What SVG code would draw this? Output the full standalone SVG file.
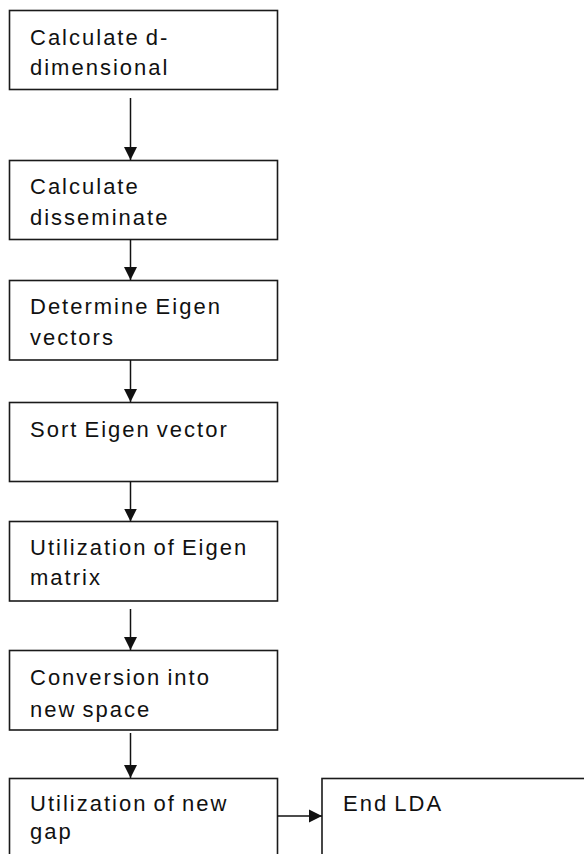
<svg xmlns="http://www.w3.org/2000/svg" width="584" height="854" viewBox="0 0 584 854">
<style>
.box{fill:#fff;stroke:#1a1a1a;stroke-width:1.6}
.lbl{font-family:"Liberation Sans",Arial,sans-serif;font-size:22px;letter-spacing:2px;word-spacing:-2px;fill:#111}
.conn{stroke:#111;stroke-width:1.5;fill:none;marker-end:url(#ah)}
</style>
<defs>
<marker id="ah" markerUnits="userSpaceOnUse" markerWidth="14" markerHeight="14" refX="13" refY="7" orient="auto" viewBox="0 0 14 14">
<path d="M0,0.5 L13,7 L0,13.5 Z" fill="#111"/>
</marker>
</defs>
<rect width="584" height="854" fill="#fff"/>
<g id="n1"><rect class="box" x="9.5" y="10.5" width="268" height="79"/><text class="lbl" x="30" y="45">Calculate d-</text><text class="lbl" x="30" y="75">dimensional</text></g>
<g id="n2"><rect class="box" x="9.5" y="160.5" width="268" height="79"/><text class="lbl" x="30" y="194">Calculate</text><text class="lbl" x="30" y="225">disseminate</text></g>
<g id="n3"><rect class="box" x="9.5" y="280.5" width="268" height="79.5"/><text class="lbl" x="30" y="314">Determine Eigen</text><text class="lbl" x="30" y="345">vectors</text></g>
<g id="n4"><rect class="box" x="9.5" y="402.5" width="268" height="79"/><text class="lbl" x="30" y="437">Sort Eigen vector</text></g>
<g id="n5"><rect class="box" x="9.5" y="521.5" width="268" height="79.5"/><text class="lbl" x="30" y="555">Utilization of Eigen</text><text class="lbl" x="30" y="585">matrix</text></g>
<g id="n6"><rect class="box" x="9.5" y="650.5" width="268" height="79.5"/><text class="lbl" x="30" y="685">Conversion into</text><text class="lbl" x="30" y="717">new space</text></g>
<g id="n7"><rect class="box" x="9.5" y="778.5" width="268" height="100"/><text class="lbl" x="30" y="811">Utilization of new</text><text class="lbl" x="30" y="839">gap</text></g>
<g id="n8"><rect class="box" x="322" y="778.5" width="290" height="100"/><text class="lbl" x="343" y="811">End LDA</text></g>
<g id="connectors">
<line class="conn" x1="130.5" y1="98" x2="130.5" y2="160"/>
<line class="conn" x1="130.5" y1="239.5" x2="130.5" y2="280"/>
<line class="conn" x1="130.5" y1="360" x2="130.5" y2="402"/>
<line class="conn" x1="130.5" y1="481.5" x2="130.5" y2="521.5"/>
<line class="conn" x1="130.5" y1="609" x2="130.5" y2="650"/>
<line class="conn" x1="130.5" y1="733" x2="130.5" y2="778"/>
<line class="conn" x1="277.5" y1="816" x2="322" y2="816"/>
</g>
</svg>
